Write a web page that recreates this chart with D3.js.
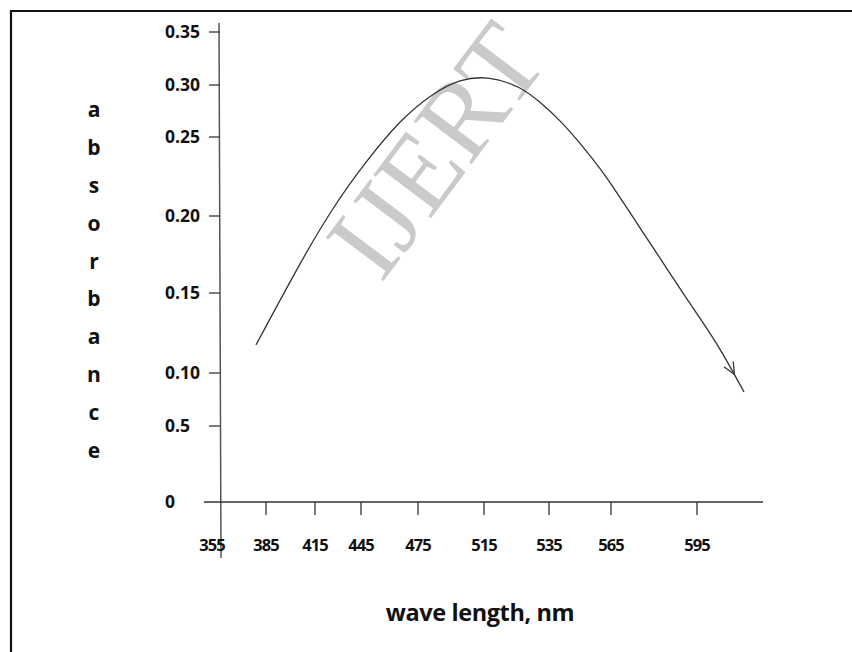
<!DOCTYPE html>
<html>
<head>
<meta charset="utf-8">
<script src="https://cdn.jsdelivr.net/npm/d3@7"></script>
<style>
  body { margin: 0; background: #fff; }
  svg { display: block; }
</style>
</head>
<body>
<svg id="chart"></svg>
<script>
// data
const xTicks = [355, 385, 415, 445, 475, 515, 535, 565, 595];
const yTicks = [0, 0.05, 0.10, 0.15, 0.20, 0.25, 0.30, 0.35];
const yTickLabels = ["0", "0.5", "0.10", "0.15", "0.20", "0.25", "0.30", "0.35"];
const wavelength = [378.3, 405.8, 426.7, 448.2, 465.5, 484.1, 500.5, 515.9, 526.1, 532.2, 540.3, 550.0, 559.7, 568.1, 575.1, 582.1, 589.1, 596.0, 603.0, 611.4];
const absorbance = [0.1175, 0.1695, 0.2057, 0.2354, 0.2663, 0.2923, 0.3055, 0.3085, 0.2990, 0.2837, 0.2663, 0.2462, 0.2304, 0.212, 0.1922, 0.1727, 0.1526, 0.1344, 0.1156, 0.0821];
const yLetters = "absorbance".split("");

function initChart() {
    const width = 852;
    const height = 652;
    const svg = d3.select("#chart").attr("width", width).attr("height", height);
    const font = "'Open Sans', sans-serif";

    // uneven, hand-drawn style axes -> piecewise scales
    const x = d3.scaleLinear().domain(xTicks).range([221, 266, 315, 361, 418, 484, 549, 611, 697]);
    const y = d3.scaleLinear().domain(yTicks).range([502, 426, 373, 293, 216, 137, 85, 32]);

    // frame (top + left only)
    svg.append("path").attr("d", `M11,${height} L11,11 L${width},11`).attr("fill", "none").attr("stroke", "#111").attr("stroke-width", 2.2);

    // watermark
    svg.append("text").attr("transform", "translate(436,150) rotate(-53)").attr("text-anchor", "middle").attr("dominant-baseline", "central")
        .attr("font-family", "'Liberation Serif', serif").attr("font-size", 110).attr("fill", "#cacaca").text("IJERT");

    // y axis
    svg.append("line").attr("x1", 219).attr("x2", 221).attr("y1", 23).attr("y2", 558).attr("stroke", "#555").attr("stroke-width", 1.5);
    svg.selectAll(".ytick").data(yTicks.slice(1)).enter().append("line").attr("x1", 209).attr("x2", 220).attr("y1", d => y(d)).attr("y2", d => y(d)).attr("stroke", "#333").attr("stroke-width", 1.3);
    svg.selectAll(".ylab").data(yTicks).enter().append("text").attr("x", 165).attr("y", d => y(d)).attr("dy", "0.35em")
        .attr("font-family", font).attr("font-weight", "bold").attr("font-size", 17.5).attr("fill", "#111").text((d, i) => yTickLabels[i]);

    // x axis
    svg.append("line").attr("x1", 204).attr("x2", 763).attr("y1", y(0)).attr("y2", y(0)).attr("stroke", "#333").attr("stroke-width", 1.3);
    svg.selectAll(".xtick").data(xTicks.slice(1)).enter().append("line").attr("x1", d => x(d)).attr("x2", d => x(d)).attr("y1", y(0)).attr("y2", y(0) + 13).attr("stroke", "#333").attr("stroke-width", 1.3);
    svg.selectAll(".xlab").data(xTicks).enter().append("text").attr("x", (d, i) => i === 0 ? x(d) - 9 : x(d)).attr("y", 551).attr("text-anchor", "middle")
        .attr("font-family", font).attr("font-weight", "bold").attr("font-size", 16.5).attr("letter-spacing", -1).attr("fill", "#111").text(d => d);

    // axis titles
    svg.append("text").attr("x", 480).attr("y", 621).attr("text-anchor", "middle").attr("font-family", font).attr("font-weight", "bold").attr("font-size", 23.5).attr("letter-spacing", -0.4).attr("fill", "#111").text("wave length, nm");
    svg.selectAll(".ylet").data(yLetters).enter().append("text").attr("x", 94).attr("y", (d, i) => 110 + i * 37.8).attr("dy", "0.35em").attr("text-anchor", "middle")
        .attr("font-family", font).attr("font-weight", "bold").attr("font-size", 21).attr("fill", "#111").text(d => d);

    // curve
    const pts = wavelength.map((w, i) => [x(w), y(absorbance[i])]);
    const curve = svg.append("path").datum(pts).attr("fill", "none").attr("stroke", "#333").attr("stroke-width", 1.3).attr("d", d3.line().curve(d3.curveBasis));

    // arrow chevron sitting on the falling end of the curve
    const node = curve.node();
    const len = node.getTotalLength();
    const tip = node.getPointAtLength(len - 20);
    const back = node.getPointAtLength(len - 28);
    const ang = Math.atan2(tip.y - back.y, tip.x - back.x);
    const arm = 13;
    const a1 = [tip.x - arm * Math.cos(ang - 0.42), tip.y - arm * Math.sin(ang - 0.42)];
    const a2 = [tip.x - arm * Math.cos(ang + 0.42), tip.y - arm * Math.sin(ang + 0.42)];
    svg.append("path").attr("d", `M${a1[0]},${a1[1]} L${tip.x},${tip.y} L${a2[0]},${a2[1]}`).attr("fill", "none").attr("stroke", "#333").attr("stroke-width", 1.3);
}

initChart();
</script>
</body>
</html>
